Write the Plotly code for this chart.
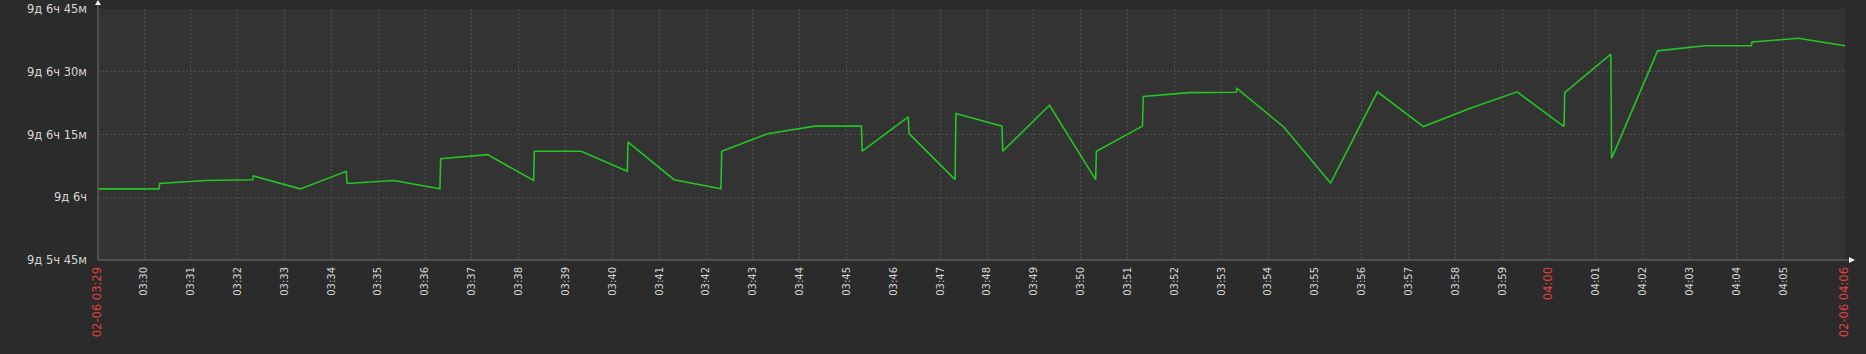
import plotly.graph_objects as go

DATE = "2024-02-06 "

# sample times (HH:MM:SS) and uptime values in minutes
times = ["03:29:01", "03:30:19", "03:30:20", "03:31:19", "03:32:19", "03:32:20",
         "03:33:20", "03:34:19", "03:34:20", "03:35:20", "03:36:19", "03:36:20",
         "03:37:20", "03:38:19", "03:38:20", "03:39:20", "03:40:19", "03:40:20",
         "03:41:19", "03:42:19", "03:42:20", "03:43:19", "03:44:19", "03:45:19",
         "03:45:20", "03:46:19", "03:46:20", "03:47:19", "03:47:20", "03:48:19",
         "03:48:20", "03:49:20", "03:50:19", "03:50:20", "03:51:19", "03:51:20",
         "03:52:19", "03:53:19", "03:53:20", "03:54:20", "03:55:20", "03:56:20",
         "03:57:19", "03:58:19", "03:59:19", "04:00:19", "04:00:20", "04:01:19",
         "04:01:20", "04:02:19", "04:03:19", "04:04:19", "04:04:20", "04:05:19",
         "04:06:19"]
uptime_min = [13322.0, 13322.0, 13323.3, 13324.0, 13324.2, 13325.1,
              13322.0, 13326.2, 13323.3, 13324.0, 13322.0, 13329.2,
              13330.2, 13324.0, 13331.0, 13331.0, 13326.2, 13333.2,
              13324.2, 13322.0, 13331.0, 13335.2, 13337.0, 13337.0,
              13331.0, 13339.2, 13335.2, 13324.2, 13340.0, 13337.0,
              13331.0, 13342.0, 13324.2, 13331.0, 13337.0, 13344.1,
              13345.0, 13345.1, 13346.0, 13336.8, 13323.4, 13345.2,
              13336.9, 13341.3, 13345.2, 13336.9, 13345.0, 13354.2,
              13329.3, 13355.0, 13356.2, 13356.2, 13357.1, 13358.0,
              13356.2]

x_start = "03:29:01"
x_end = "04:06:19"

y_tickvals = [13305, 13320, 13335, 13350, 13365]
y_ticktext = ["9д 5ч 45м", "9д 6ч", "9д 6ч 15м", "9д 6ч 30м", "9д 6ч 45м"]

x_ticktimes = ["03:29:01", "03:30:00", "03:31:00", "03:32:00", "03:33:00", "03:34:00",
               "03:35:00", "03:36:00", "03:37:00", "03:38:00", "03:39:00", "03:40:00",
               "03:41:00", "03:42:00", "03:43:00", "03:44:00", "03:45:00", "03:46:00",
               "03:47:00", "03:48:00", "03:49:00", "03:50:00", "03:51:00", "03:52:00",
               "03:53:00", "03:54:00", "03:55:00", "03:56:00", "03:57:00", "03:58:00",
               "03:59:00", "04:00:00", "04:01:00", "04:02:00", "04:03:00", "04:04:00",
               "04:05:00", "04:06:19"]
x_ticklabels = ["02-06 03:29", "03:30", "03:31", "03:32", "03:33", "03:34",
                "03:35", "03:36", "03:37", "03:38", "03:39", "03:40",
                "03:41", "03:42", "03:43", "03:44", "03:45", "03:46",
                "03:47", "03:48", "03:49", "03:50", "03:51", "03:52",
                "03:53", "03:54", "03:55", "03:56", "03:57", "03:58",
                "03:59", "04:00", "04:01", "04:02", "04:03", "04:04",
                "04:05", "02-06 04:06"]
x_highlight = ["02-06 03:29", "04:00", "02-06 04:06"]

RED = "#e0403c"
TEXT = "#d6d6d6"
GRID = "#4f4f4f"
AXIS = "#5a5a5a"

ticktext = [
    f'<span style="color:{RED};font-size:11.5px">{t}</span>' if t in x_highlight else t
    for t in x_ticklabels
]

fig = go.Figure()
fig.add_trace(go.Scatter(
    x=[DATE + t for t in times], y=uptime_min, mode="lines",
    line=dict(color="#23c423", width=1.6), hoverinfo="skip", showlegend=False,
))

fig.update_layout(
    width=1866, height=354,
    margin=dict(l=98, r=21, t=9, b=94, pad=0, autoexpand=False),
    paper_bgcolor="#2b2b2b", plot_bgcolor="#333333",
    font=dict(family="DejaVu Sans", color=TEXT, size=10),
    xaxis=dict(
        type="date", range=[DATE + x_start, DATE + x_end], automargin=False,
        tickmode="array", tickvals=[DATE + t for t in x_ticktimes], ticktext=ticktext,
        tickangle=-90, tickfont=dict(size=10, color=TEXT),
        showgrid=True, gridcolor=GRID, griddash="2px,2px", gridwidth=1,
        zeroline=False, showline=False, ticks="", ticklabelstandoff=4,
    ),
    yaxis=dict(
        range=[13305, 13365], tickmode="array", tickvals=y_tickvals, ticktext=y_ticktext,
        tickfont=dict(size=11.5, color=TEXT), automargin=False,
        showgrid=True, gridcolor=GRID, griddash="2px,2px", gridwidth=1,
        zeroline=False, showline=False, ticks="", ticklabelstandoff=10,
    ),
    shapes=[
        # y axis line extending above the plot, with arrow head
        dict(type="line", xref="paper", yref="paper", xsizemode="pixel", ysizemode="pixel",
             xanchor=0, yanchor=0, x0=0, x1=0, y0=0, y1=256,
             line=dict(color=AXIS, width=1.5), layer="above"),
        dict(type="path", xref="paper", yref="paper", xsizemode="pixel", ysizemode="pixel",
             xanchor=0, yanchor=0, path="M -3 255 L 3 255 L 0 260 Z",
             fillcolor="#f0f0f0", line=dict(width=0), layer="above"),
        # x axis line extending to the right, with arrow head
        dict(type="line", xref="paper", yref="paper", xsizemode="pixel", ysizemode="pixel",
             xanchor=0, yanchor=0, x0=0, x1=1752, y0=0, y1=0,
             line=dict(color=AXIS, width=1.5), layer="above"),
        dict(type="path", xref="paper", yref="paper", xsizemode="pixel", ysizemode="pixel",
             xanchor=0, yanchor=0, path="M 1751 3 L 1751 -3 L 1757 0 Z",
             fillcolor="#f0f0f0", line=dict(width=0), layer="above"),
    ],
)

fig.write_html("out.html")
